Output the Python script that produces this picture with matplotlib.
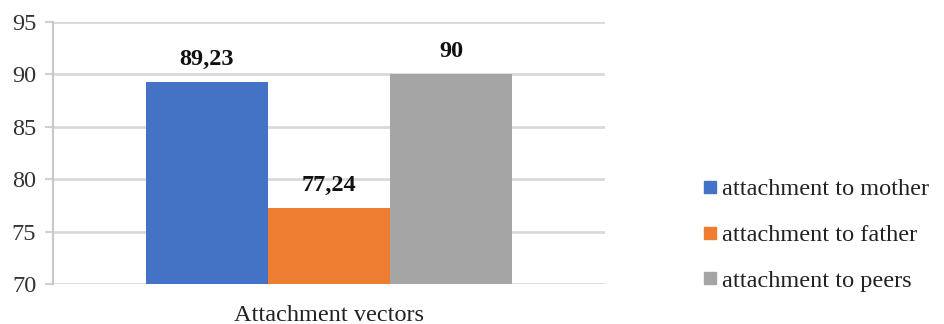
import matplotlib
matplotlib.use("Agg")
import matplotlib.pyplot as plt
from matplotlib.lines import Line2D

category = "Attachment vectors"
series = ["attachment to mother", "attachment to father", "attachment to peers"]
values = [89.23, 77.24, 90]
labels = ["89,23", "77,24", "90"]
colors = ["#4472c4", "#ed7d31", "#a5a5a5"]
yticks = [70, 75, 80, 85, 90, 95]

plt.rcParams["font.family"] = ["Liberation Serif", "DejaVu Serif"]
FS = 17.5

fig = plt.figure(figsize=(9.44, 3.24), dpi=100)
ax = fig.add_axes([53 / 944, 40 / 324, 552 / 944, 262 / 324])

bw = 122
offsets = [-bw, 0, bw]
centre = 276
for v, lab, c, off in zip(values, labels, colors, offsets):
    ax.bar(centre + off, v - 70, bottom=70, width=bw, color=c, zorder=3)
    ax.text(centre + off, v + 1.2, lab, ha="center", va="bottom",
            fontsize=FS, fontweight="bold", color="#111111")

ax.set_xlim(0, 552)
ax.set_ylim(70, 95)
ax.set_yticks(yticks)
ax.set_yticklabels([str(t) for t in yticks], fontsize=FS, color="#333333")
ax.set_xticks([centre])
ax.set_xticklabels([category], fontsize=FS, color="#222222")
ax.tick_params(axis="x", length=0, pad=15)
ax.tick_params(axis="y", length=6, width=1.5, color="#d0d0d0", pad=6)
ax.grid(axis="y", color="#d9d9d9", linewidth=2, zorder=0)
for s in ["top", "right", "bottom"]:
    ax.spines[s].set_visible(False)
ax.spines["left"].set_color("#c8c8c8")
ax.spines["left"].set_linewidth(1.5)

handles = [Line2D([], [], marker="s", linestyle="none", markersize=8,
                  markerfacecolor=c, markeredgecolor=c) for c in colors]
fig.legend(handles, series, loc="center left", bbox_to_anchor=(688 / 944, 1 - 235 / 324),
           frameon=False, fontsize=FS, handletextpad=0.0, labelspacing=0.97,
           handlelength=1.0, borderaxespad=0, labelcolor="#222222")

fig.savefig("out.png", dpi=100)
